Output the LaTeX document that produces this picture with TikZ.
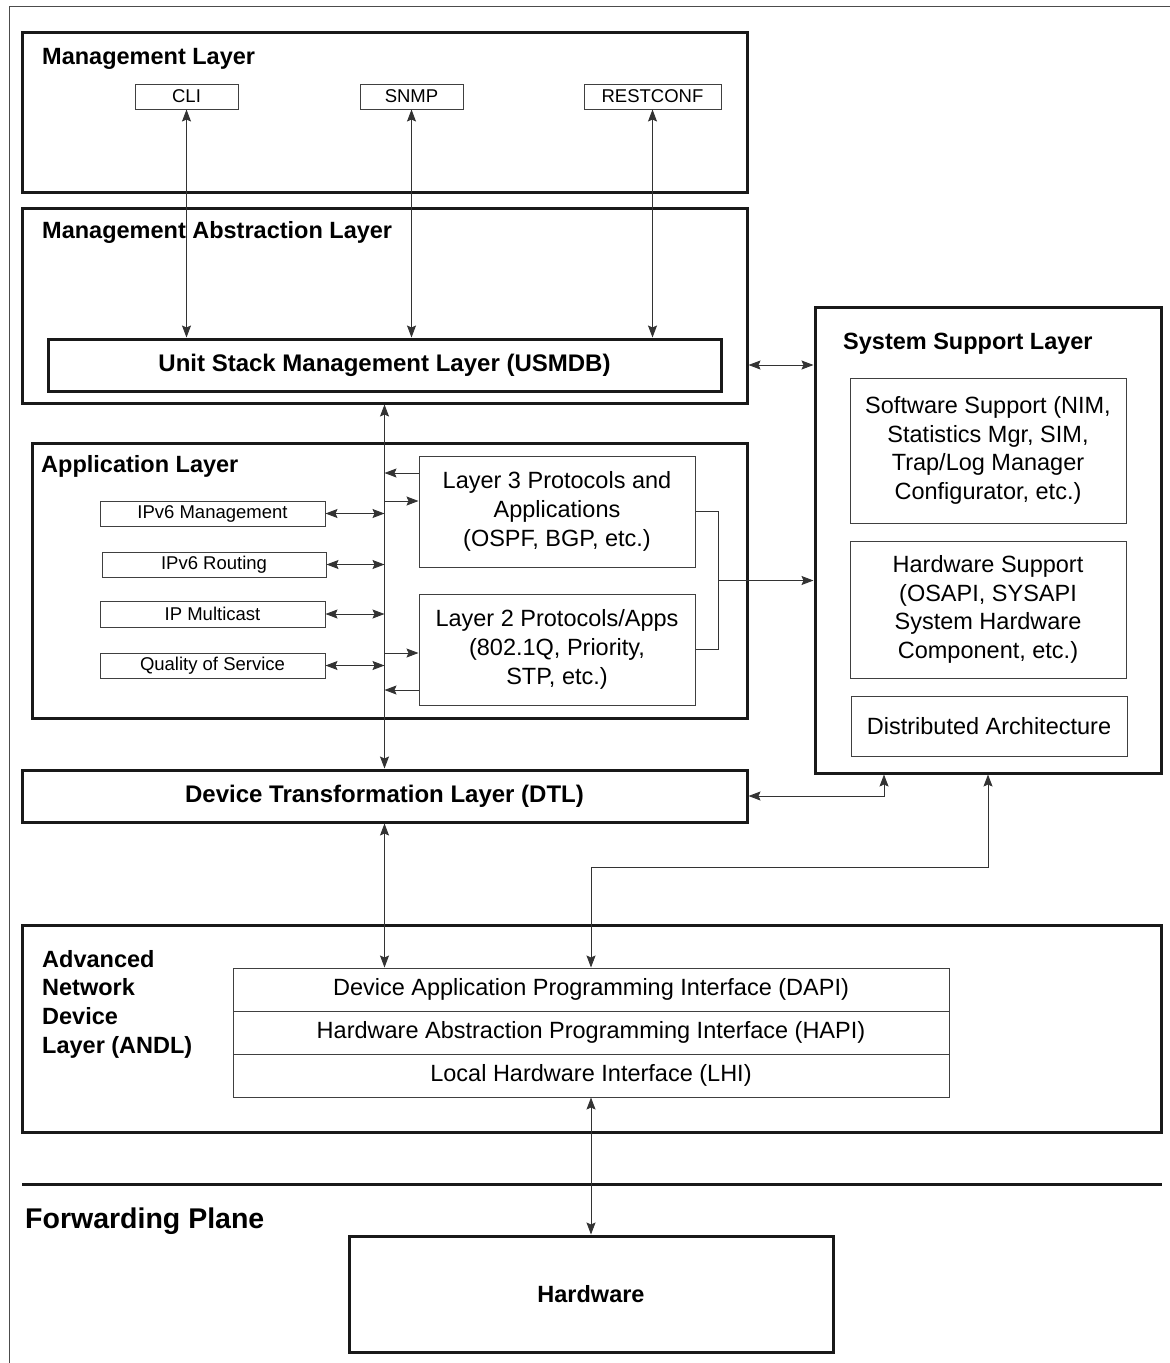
\documentclass[tikz,border=0pt]{standalone}
\usepackage{fontspec}
\setmainfont{Liberation Sans}
\usetikzlibrary{arrows.meta}

\tikzset{
  layerbox/.style={draw=black!90, line width=3pt, inner sep=0pt},
  subbox/.style={draw=black!75, line width=1pt, inner sep=0pt, align=center,
    font=\fontsize{23.5}{28.7}\selectfont},
  tagbox/.style={draw=black!75, line width=1pt, inner sep=0pt,
    font=\fontsize{18.5}{20}\selectfont},
  layertitle/.style={anchor=west, inner sep=0pt, align=left,
    font=\bfseries\fontsize{23.5}{28.7}\selectfont},
  wire/.style={color=black!80, line width=0.9pt},
  oneway/.style={wire, -{Stealth[length=12pt,width=9pt,inset=2pt]}},
  twoway/.style={wire, {Stealth[length=12pt,width=9pt,inset=2pt]}-{Stealth[length=12pt,width=9pt,inset=2pt]}},
}

\begin{document}
\begin{tikzpicture}[x=1pt,y=-1pt]
    \useasboundingbox (0,0) rectangle (1170,1363);
    \draw[black!70, line width=0.8pt] (9,1363) -- (9,6) -- (1170,6);

    % management layers
    \node[layerbox, minimum width=725, minimum height=160] (ml) at (384.5,112) {};
    \node[layertitle] (mltitle) at (42,59) {Management Layer};
    \node[tagbox, minimum width=103, minimum height=25] (cli) at (186.5,96.5) {CLI};
    \node[tagbox, minimum width=103, minimum height=25] (snmp) at (411.5,96.5) {SNMP};
    \node[tagbox, minimum width=137, minimum height=25] (rest) at (652.5,96.5) {RESTCONF};

    \node[layerbox, minimum width=725, minimum height=195] (mal) at (384.5,305.5) {};
    \node[layertitle] (maltitle) at (42,232) {Management Abstraction Layer};
    \node[layerbox, minimum width=673, minimum height=52,
      font=\bfseries\fontsize{24}{28.7}\selectfont] (usmdb) at (384.5,365) {Unit Stack Management Layer (USMDB)};

    % application layer
    \node[layerbox, minimum width=715, minimum height=275] (app) at (389.5,580.5) {};
    \node[layertitle] (apptitle) at (41,466) {Application Layer};
    \node[tagbox, minimum width=225, minimum height=25] (ipv6m) at (212.5,513.5) {IPv6 Management};
    \node[tagbox, minimum width=224, minimum height=25] (ipv6r) at (214,564.5) {IPv6 Routing};
    \node[tagbox, minimum width=225, minimum height=26] (ipmc) at (212.5,614) {IP Multicast};
    \node[tagbox, minimum width=225, minimum height=25] (qos) at (212.5,665.5) {Quality of Service};
    \node[subbox, minimum width=276, minimum height=111] (l3) at (557,511.5)
      {Layer 3 Protocols and\\Applications\\(OSPF, BGP, etc.)};
    \node[subbox, minimum width=276, minimum height=111] (l2) at (557,649.5)
      {Layer 2 Protocols/Apps\\(802.1Q, Priority,\\STP, etc.)};

    % system support layer
    \node[layerbox, minimum width=346, minimum height=466] (ssl) at (988,540) {};
    \node[layertitle] (ssltitle) at (843,344) {System Support Layer};
    \node[subbox, minimum width=276, minimum height=145] (sws) at (988,450.5)
      {Software Support (NIM,\\Statistics Mgr, SIM,\\Trap/Log Manager\\Configurator, etc.)};
    \node[subbox, minimum width=276, minimum height=137] (hws) at (988,609.5)
      {Hardware Support\\(OSAPI, SYSAPI\\System Hardware\\Component, etc.)};
    \node[subbox, minimum width=276, minimum height=60] (dist) at (989,726) {Distributed Architecture};

    % device layers
    \node[layerbox, minimum width=725, minimum height=52,
      font=\bfseries\fontsize{24}{28.7}\selectfont] (dtl) at (384.5,796) {Device Transformation Layer (DTL)};
    \node[layerbox, minimum width=1139, minimum height=207] (andl) at (591.5,1028.5) {};
    \node[layertitle] (andltitle) at (42,1004) {Advanced\\Network\\Device\\Layer (ANDL)};
    \node[subbox, minimum width=716, minimum height=43] (dapi) at (591,989.5)
      {Device Application Programming Interface (DAPI)};
    \node[subbox, minimum width=716, minimum height=43] (hapi) at (591,1032.5)
      {Hardware Abstraction Programming Interface (HAPI)};
    \node[subbox, minimum width=716, minimum height=43] (lhi) at (591,1075.5)
      {Local Hardware Interface (LHI)};

    % forwarding plane
    \draw[black!90, line width=3pt] (22,1184) -- (1162,1184);
    \node[layertitle, font=\bfseries\fontsize{28.5}{30}\selectfont] (fptitle) at (25,1221) {Forwarding Plane};
    \node[layerbox, minimum width=484, minimum height=116,
      font=\bfseries\fontsize{23.5}{28}\selectfont] (hw) at (591,1294) {Hardware};

    % connectors
    \coordinate (fork) at (718,580.5);
    \path[twoway]
    (cli.south) edge (cli.south |- usmdb.north)
    (snmp.south) edge (snmp.south |- usmdb.north)
    (rest.south) edge (rest.south |- usmdb.north)
    (mal.south) edge (dtl.north)
    (ipv6m.east) edge (ipv6m.east -| mal.south)
    (ipv6r.east) edge (ipv6r.east -| mal.south)
    (ipmc.east) edge (ipmc.east -| mal.south)
    (qos.east) edge (qos.east -| mal.south)
    (mal.east |- usmdb) edge (ssl.west |- usmdb)
    (dtl.south) edge (dtl.south |- dapi.north)
    (lhi.south) edge (hw.north);
    \path[oneway]
    ([yshift=38.5pt]l3.west) edge ([yshift=38.5pt]l3.west -| mal.south)
    ([yshift=10.5pt]l3.west -| mal.south) edge ([yshift=10.5pt]l3.west)
    ([yshift=-3.5pt]l2.west -| mal.south) edge ([yshift=-3.5pt]l2.west)
    ([yshift=-40.5pt]l2.west) edge ([yshift=-40.5pt]l2.west -| mal.south)
    (fork) edge (fork -| ssl.west);
    \draw[wire] (l3.east) -- ++(23,0) |- (l2.east);
    \draw[twoway] (dtl.east) -| ([xshift=-104pt]ssl.south);
    \draw[twoway] (ssl.south) -- (ssl.south |- 0,867) -| (dapi.north);
\end{tikzpicture}
\end{document}
